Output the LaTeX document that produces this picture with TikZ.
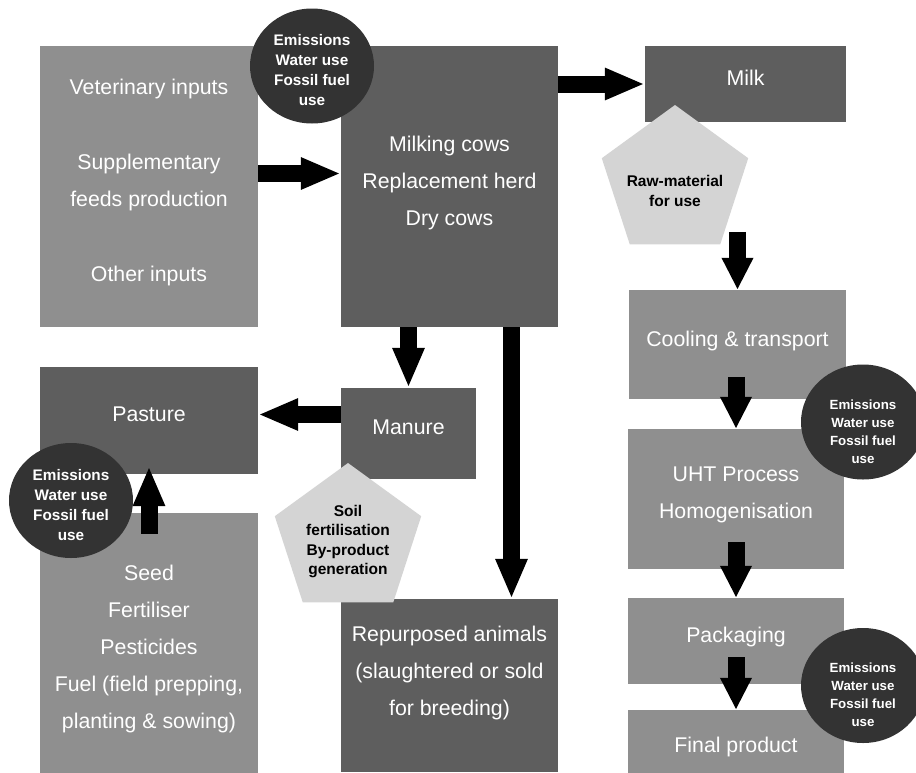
\documentclass[tikz,border=0pt]{standalone}
\usepackage{fontspec}
\setmainfont{Liberation Sans}
\usetikzlibrary{calc}
\usetikzlibrary{arrows.meta}
\usetikzlibrary{shapes.geometric}

\definecolor{boxlight}{HTML}{8F8F8F}
\definecolor{boxdark}{HTML}{5E5E5E}
\definecolor{bubble}{HTML}{333333}
\definecolor{penta}{HTML}{D4D4D4}

\begin{document}
\begin{tikzpicture}[x=1pt, y=-1pt,
    stage/.style={rectangle, inner sep=0pt, text=white, align=center, text depth=12pt, font=\fontsize{21.3}{37}\selectfont},
    lightstage/.style={stage, fill=boxlight},
    darkstage/.style={stage, fill=boxdark},
    impact/.style={ellipse, inner xsep=0pt, inner ysep=-3pt, fill=bubble, text=white, align=center, minimum width=124pt, minimum height=115pt},
    outcome/.style={regular polygon, regular polygon sides=5, inner sep=-20pt, fill=penta, align=center, minimum size=154pt, font=\fontsize{15.5}{19.5}\selectfont\bfseries},
    flow/.style={line width=17pt, -{Triangle[length=40pt, width=29.5pt]}},
    shortflow/.style={line width=17pt, -{Triangle[length=32pt, width=29.5pt]}}]
\clip (0,0) rectangle (916,772);

% farm stages
\node[lightstage, minimum width=218pt, minimum height=281pt] (inputs) at (149,186.5)
    {Veterinary inputs\\[38pt]Supplementary\\feeds production\\[38pt]Other inputs};
\node[darkstage, minimum width=217pt, minimum height=281pt] (milking) at (449.5,186.5)
    {Milking cows\\Replacement herd\\Dry cows};
\node[darkstage, minimum width=218pt, minimum height=107pt] (pasture) at (149,420.5) {Pasture};
\node[darkstage, minimum width=135pt, minimum height=91pt] (manure) at (408.5,433.5) {Manure};
\node[lightstage, minimum width=218pt, minimum height=280pt] (seed) at (149,653)
    {Seed\\Fertiliser\\Pesticides\\Fuel (field prepping,\\planting \& sowing)};
\node[darkstage, minimum width=217pt, minimum height=173pt, text depth=30pt] (repurposed) at (449.5,685.5)
    {Repurposed animals\\(slaughtered or sold\\for breeding)};

% processing stages
\node[darkstage, minimum width=201pt, minimum height=76pt] (milk) at (745.5,84) {Milk};
\node[lightstage, minimum width=217pt, minimum height=109pt] (cooling) at (737.5,344.5) {Cooling \& transport};
\node[lightstage, minimum width=216pt, minimum height=140pt] (uht) at (736,499) {UHT Process\\Homogenisation};
\node[lightstage, minimum width=216pt, minimum height=86pt] (packaging) at (736,641) {Packaging};
\node[lightstage, minimum width=216pt, minimum height=82pt] (final) at (736,751) {Final product};

% flows
\draw[flow] ($(inputs.east)+(0,-13)$) -- ($(milking.west)+(0,-13)$);
\draw[flow] (milking.east |- milk.west) -- (milk.west);
\draw[flow] (milking.south -| manure.north) -- (manure.north);
\draw[flow] ($(manure.west)+(0,-19)$) -- ($(pasture.east)+(0,-6)$);
\draw[flow] ($(seed.north)+(0,21)$) -- ($(pasture.south)+(0,-8)$);
\draw[flow] ($(milking.south)+(62,0)$) -- ($(repurposed.north)+(62,0)$);
\draw[shortflow] ($(cooling.north)+(0,-58)$) -- (cooling.north);
\draw[shortflow] ($(uht.north)+(0,-52)$) -- (uht.north);
\draw[shortflow] ($(uht.south)+(0,-27)$) -- (packaging.north);
\draw[shortflow] ($(packaging.south)+(0,-27)$) -- (final.north);

% impacts
\node[impact, text height=79pt, font=\fontsize{15.3}{20}\selectfont\bfseries] (emherd) at (312,66) {Emissions\\Water use\\Fossil fuel\\use};
\node[impact, text height=80pt, font=\fontsize{15.3}{20}\selectfont\bfseries] (empasture) at (71,500.5) {Emissions\\Water use\\Fossil fuel\\use};
\node[impact, text height=83pt, font=\fontsize{13.3}{18}\selectfont\bfseries] (emcooling) at (863,422) {Emissions\\Water use\\Fossil fuel\\use};
\node[impact, text height=83pt, font=\fontsize{13.3}{18}\selectfont\bfseries] (empack) at (863,685.5) {Emissions\\Water use\\Fossil fuel\\use};

% outcomes
\node[outcome, text height=49pt] (raw) at (675,182) {Raw-material\\for use};
\node[outcome, text depth=0pt] (soil) at (348,540) {Soil\\fertilisation\\By-product\\generation};
\end{tikzpicture}
\end{document}
